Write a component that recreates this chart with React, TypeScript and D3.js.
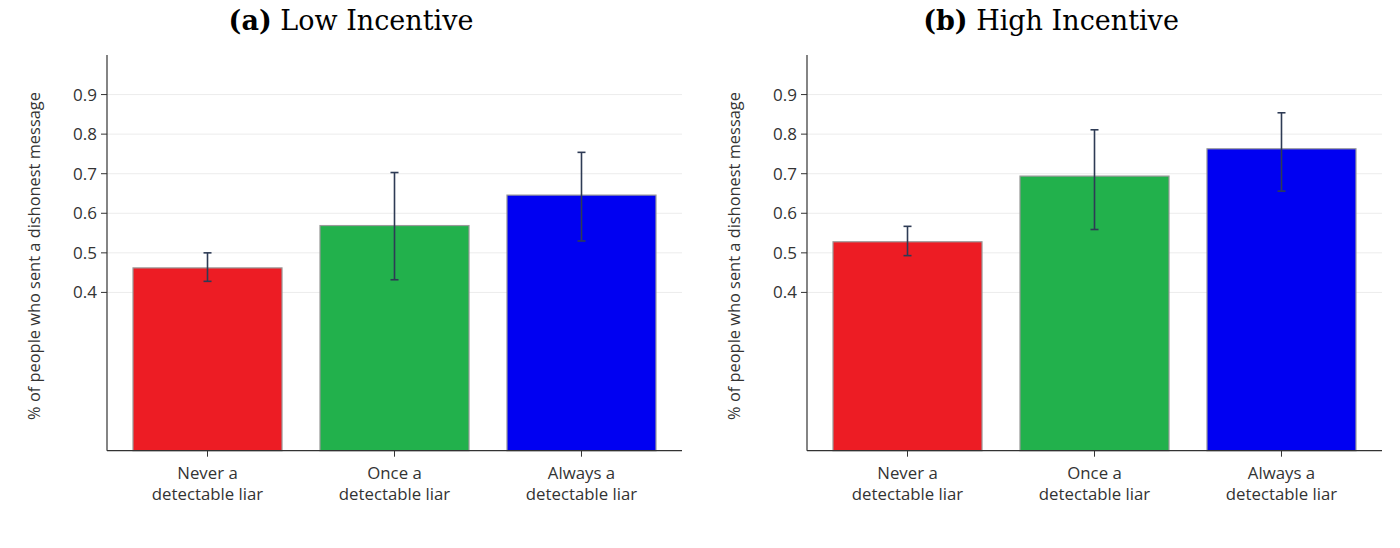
import React, { useEffect } from "react";
import * as d3 from "d3";

const categories = ["Never a|detectable liar", "Once a|detectable liar", "Always a|detectable liar"];
const barColors = ["#ED1C24", "#22B14C", "#0000F2"];
const lowValues = [0.462, 0.569, 0.646];
const lowLower = [0.428, 0.432, 0.530];
const lowUpper = [0.500, 0.703, 0.754];
const highValues = [0.528, 0.694, 0.763];
const highLower = [0.493, 0.559, 0.656];
const highUpper = [0.567, 0.811, 0.854];
const yTicks = [0.4, 0.5, 0.6, 0.7, 0.8, 0.9];
const panels = [
  { tag: "(a)", title: "Low Incentive", values: lowValues, lower: lowLower, upper: lowUpper },
  { tag: "(b)", title: "High Incentive", values: highValues, lower: highLower, upper: highUpper },
];

const W = 1400;
const H = 548;
const FONT = "'Open Sans', sans-serif";

function Panel({ p, ox }: { p: typeof panels[0]; ox: number }) {
  const x0 = 107 + ox;
  const x1 = 682 + ox;
  const yBottom = 450.7;
  const yTop = 55;
  const y = d3.scaleLinear().domain([0, 1]).range([yBottom, yTop]);
  const x = d3.scaleBand<string>().domain(categories).range([x0, x1]).paddingInner(0.203).paddingOuter(0.139);
  const bw = x.bandwidth();
  return (
    <g>
      <text x={ox + 351} y={30} textAnchor="middle" fontFamily="'DejaVu Serif', serif" fontSize={27} fill="#000">
        <tspan fontWeight="bold">{p.tag}</tspan>
        <tspan> {p.title}</tspan>
      </text>
      {yTicks.map((t) => (
        <line key={"g" + t} x1={x0} x2={x1} y1={y(t)} y2={y(t)} stroke="#ececec" strokeWidth={1} />
      ))}
      {categories.map((c, i) => (
        <rect key={c} x={x(c)!} y={y(p.values[i])} width={bw} height={y(0) - y(p.values[i])}
          fill={barColors[i]} stroke="#9a9a9a" strokeWidth={1.2} />
      ))}
      {categories.map((c, i) => {
        const cx = x(c)! + bw / 2;
        return (
          <g key={"e" + c} stroke="#2e3b55" strokeWidth={1.6}>
            <line x1={cx} x2={cx} y1={y(p.upper[i])} y2={y(p.lower[i])} />
            <line x1={cx - 4} x2={cx + 4} y1={y(p.upper[i])} y2={y(p.upper[i])} />
            <line x1={cx - 4} x2={cx + 4} y1={y(p.lower[i])} y2={y(p.lower[i])} />
          </g>
        );
      })}
      <line x1={x0} x2={x0} y1={yTop} y2={yBottom} stroke="#333" strokeWidth={1.2} />
      <line x1={x0} x2={x1} y1={yBottom} y2={yBottom} stroke="#333" strokeWidth={1.2} />
      {yTicks.map((t) => (
        <g key={"t" + t}>
          <line x1={x0 - 6} x2={x0} y1={y(t)} y2={y(t)} stroke="#333" strokeWidth={1} />
          <text x={x0 - 10} y={y(t)} dy="0.35em" textAnchor="end" fontFamily={FONT} fontSize={17} fill="#333">
            {t.toFixed(1)}
          </text>
        </g>
      ))}
      {categories.map((c) => {
        const cx = x(c)! + bw / 2;
        const [l1, l2] = c.split("|");
        return (
          <g key={"x" + c}>
            <line x1={cx} x2={cx} y1={yBottom} y2={yBottom + 6} stroke="#333" strokeWidth={1} />
            <text x={cx} y={479} textAnchor="middle" fontFamily={FONT} fontSize={16.8} fill="#333">{l1}</text>
            <text x={cx} y={500} textAnchor="middle" fontFamily={FONT} fontSize={16.8} fill="#333">{l2}</text>
          </g>
        );
      })}
      <text transform={`translate(${ox + 40},${256}) rotate(-90)`} textAnchor="middle" fontFamily={FONT}
        fontSize={16.4} fill="#333">
        % of people who sent a dishonest message
      </text>
    </g>
  );
}

export default function App() {
  useEffect(() => {
    document.body.style.margin = "0";
  }, []);
  return (
    <svg width={W} height={H} style={{ display: "block", background: "#fff" }}>
      <rect width={W} height={H} fill="#fff" />
      {panels.map((p, i) => (
        <Panel key={p.tag} p={p} ox={i * 700} />
      ))}
    </svg>
  );
}
